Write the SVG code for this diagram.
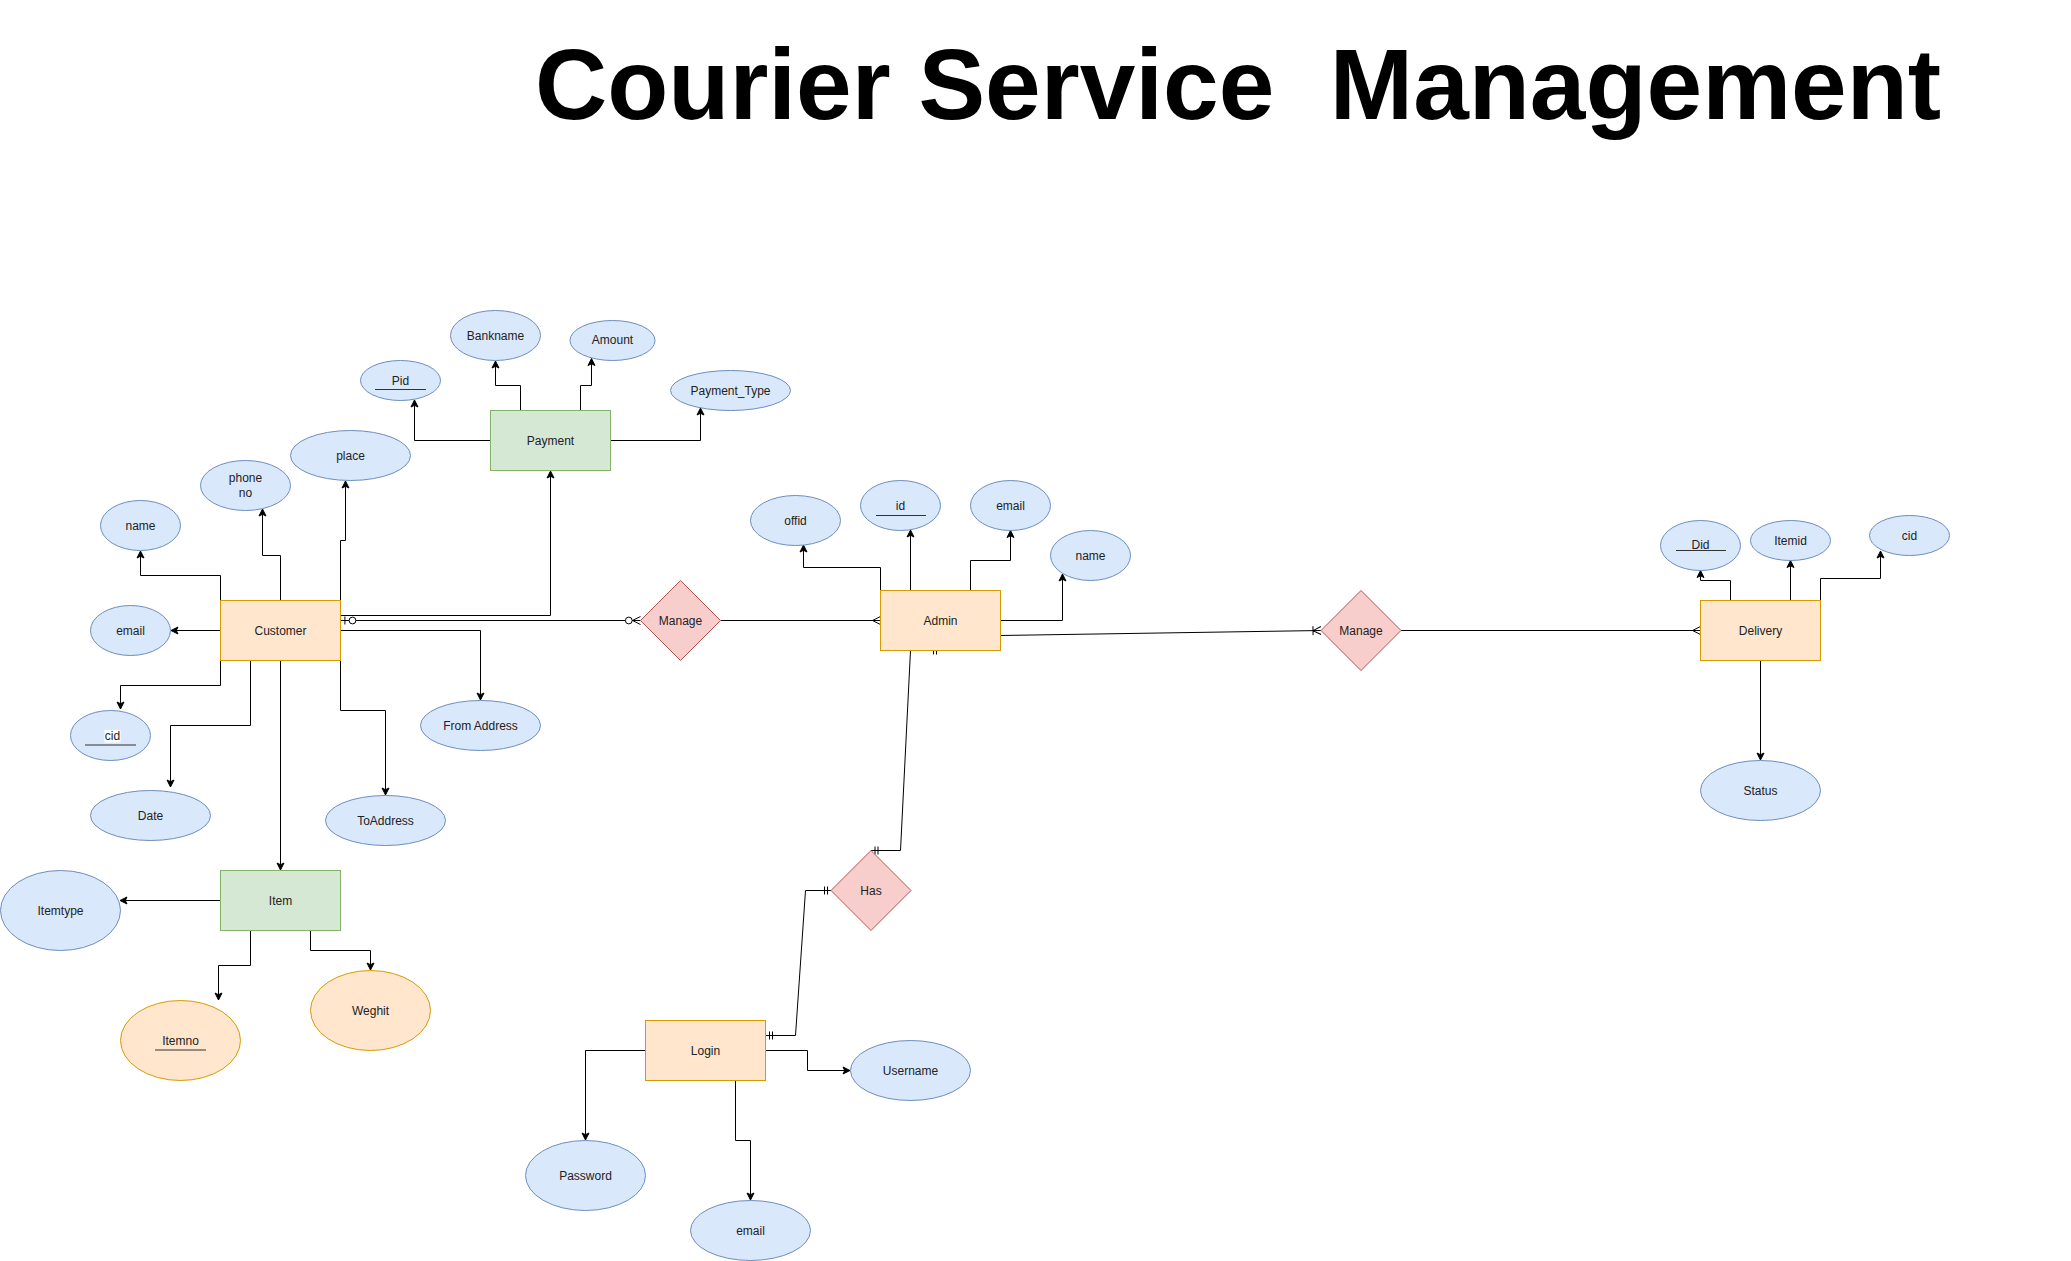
<svg xmlns="http://www.w3.org/2000/svg" width="2071" height="1261" viewBox="0 0 2071 1261">
<style>
text{font-family:"Liberation Sans",Arial,sans-serif;font-size:12px;fill:#222;text-anchor:middle}
.title{font-size:100px;font-weight:bold;fill:#000;text-anchor:start}
.ent{fill:#ffe6cc;stroke:#d79b00;stroke-width:1}
.ent2{fill:#d5e8d4;stroke:#82b366;stroke-width:1}
.att{fill:#dae8fc;stroke:#6c8ebf;stroke-width:1}
.att2{fill:#ffe6cc;stroke:#d79b00;stroke-width:1}
.rel{fill:#f8cecc;stroke:#b85450;stroke-width:1}
.ul{stroke:#333;stroke-width:1.2}
.c{fill:none;stroke:#000;stroke-width:1}
.a{marker-end:url(#arr)}
</style>
<defs>
<marker id="arr" markerUnits="userSpaceOnUse" viewBox="-10 -6 12 12" refX="0" refY="0" markerWidth="12" markerHeight="12" orient="auto" overflow="visible">
<path d="M0,0 L-7,-3.5 L-5.3,0 L-7,3.5 Z" fill="#000" stroke="#000" stroke-width="1"/>
</marker>
<marker id="many" markerUnits="userSpaceOnUse" viewBox="-16 -8 18 16" refX="0" refY="0" markerWidth="18" markerHeight="16" orient="auto" overflow="visible">
<path d="M0,-4 L-8,0 L0,4" fill="none" stroke="#000" stroke-width="1"/>
</marker>
<marker id="zeroMany" markerUnits="userSpaceOnUse" viewBox="-18 -8 20 16" refX="0" refY="0" markerWidth="20" markerHeight="16" orient="auto" overflow="visible">
<path d="M0,-4 L-8,0 L0,4" fill="none" stroke="#000" stroke-width="1"/>
<circle cx="-11.7" cy="0" r="3.4" fill="#fff" stroke="#000" stroke-width="1"/>
</marker>
<marker id="zeroOne" markerUnits="userSpaceOnUse" viewBox="-18 -8 20 16" refX="0" refY="0" markerWidth="20" markerHeight="16" orient="auto-start-reverse" overflow="visible">
<path d="M-4.4,-4 V4" fill="none" stroke="#000" stroke-width="1"/>
<circle cx="-12" cy="0" r="3.4" fill="#fff" stroke="#000" stroke-width="1"/>
</marker>
<marker id="mandOne" markerUnits="userSpaceOnUse" viewBox="-12 -8 14 16" refX="0" refY="0" markerWidth="14" markerHeight="16" orient="auto-start-reverse" overflow="visible">
<path d="M-4,-4 V4 M-7,-4 V4" fill="none" stroke="#000" stroke-width="1"/>
</marker>
<marker id="oneMany" markerUnits="userSpaceOnUse" viewBox="-14 -8 16 16" refX="0" refY="0" markerWidth="16" markerHeight="16" orient="auto" overflow="visible">
<path d="M0,-4 L-8,0 L0,4 M-8,-4.5 V4.5" fill="none" stroke="#000" stroke-width="1"/>
</marker>
</defs>
<rect width="2071" height="1261" fill="#fff"/>
<text class="title" x="535" y="119" xml:space="preserve">Courier Service  Management</text>

<g id="connectors">
<path class="c a" d="M490.5,440.5 H414.5 V400"/>
<path class="c a" d="M520.5,410.5 V385.5 H495.5 V361"/>
<path class="c a" d="M580.5,410.5 V385.5 H591.5 V358.5"/>
<path class="c a" d="M610.5,440.5 H700.5 V408"/>
<path class="c a" d="M220.5,600.5 V575.5 H140.5 V551"/>
<path class="c a" d="M280.5,600.5 V555.5 H262.5 V509"/>
<path class="c a" d="M340.5,600.5 V540.5 H345.5 V481"/>
<path class="c a" d="M340.5,615.5 H550.5 V471"/>
<path class="c a" d="M220.5,630.5 H171"/>
<path class="c a" d="M340.5,630.5 H480.5 V700"/>
<path class="c a" d="M220.5,660.5 V685.5 H120.5 V709"/>
<path class="c a" d="M250.5,660.5 V725.5 H170.5 V787"/>
<path class="c a" d="M280.5,660.5 V870"/>
<path class="c a" d="M340.5,660.5 V710.5 H385.5 V795"/>
<path class="c a" d="M220.5,900.5 H120"/>
<path class="c a" d="M250.5,930.5 V965.5 H218.5 V1000"/>
<path class="c a" d="M310.5,930.5 V950.5 H370.5 V970"/>
<path class="c a" d="M880.5,590.5 V567.5 H803.5 V545"/>
<path class="c a" d="M910.5,590.5 V530"/>
<path class="c a" d="M970.5,590.5 V560.5 H1010.5 V530.5"/>
<path class="c a" d="M1000.5,620.5 H1062.5 V574"/>
<path class="c a" d="M1730.5,600.5 V580.5 H1700.5 V570.5"/>
<path class="c a" d="M1790.5,600.5 V560.5"/>
<path class="c a" d="M1820.5,600.5 V578.5 H1880.5 V551"/>
<path class="c a" d="M1760.5,660.5 V760"/>
<path class="c a" d="M765.5,1050.5 H807.5 V1070.5 H850"/>
<path class="c a" d="M645.5,1050.5 H585.5 V1140"/>
<path class="c a" d="M735.5,1080.5 V1140.5 H750.5 V1200"/>
<path class="c" d="M340.5,620.5 H640.5" marker-start="url(#zeroOne)" marker-end="url(#zeroMany)"/>
<path class="c" d="M720.5,620.5 H880.5" marker-end="url(#many)"/>
<path class="c" d="M1000.5,635.5 L1321,630.5" marker-end="url(#oneMany)"/>
<path class="c" d="M1401,630.5 H1700.5" marker-end="url(#many)"/>
<path class="c" d="M940.5,650.5 H910.5 L900.5,850.5 H871" marker-start="url(#mandOne)" marker-end="url(#mandOne)"/>
<path class="c" d="M831.5,890.5 H805.5 L795.5,1035.5 H765.5" marker-start="url(#mandOne)" marker-end="url(#mandOne)"/>
</g>

<g id="payment"><rect class="ent2" x="490.5" y="410.5" width="120" height="60"/><text x="550.5" y="444.5">Payment</text></g>
<g id="pid"><ellipse class="att" cx="400.5" cy="380.5" rx="40" ry="20"/><text x="400.5" y="384.5">Pid</text><line class="ul" x1="375" y1="389.5" x2="426" y2="389.5"/></g>
<g id="bankname"><ellipse class="att" cx="495.5" cy="335.5" rx="45" ry="25"/><text x="495.5" y="339.5">Bankname</text></g>
<g id="amount"><ellipse class="att" cx="612.5" cy="340.5" rx="42.5" ry="20"/><text x="612.5" y="344">Amount</text></g>
<g id="payment-type"><ellipse class="att" cx="730.5" cy="390.5" rx="60" ry="20"/><text x="730.5" y="394.5">Payment_Type</text></g>

<g id="customer"><rect class="ent" x="220.5" y="600.5" width="120" height="60"/><text x="280.5" y="634.5">Customer</text></g>
<g id="c-name"><ellipse class="att" cx="140.5" cy="525.5" rx="40" ry="25"/><text x="140.5" y="529.5">name</text></g>
<g id="c-phone"><ellipse class="att" cx="245.5" cy="485.5" rx="45" ry="25"/><text x="245.5" y="482">phone</text><text x="245.5" y="497">no</text></g>
<g id="c-place"><ellipse class="att" cx="350.5" cy="455.5" rx="60" ry="25"/><text x="350.5" y="459.5">place</text></g>
<g id="c-email"><ellipse class="att" cx="130.5" cy="630.5" rx="40" ry="25"/><text x="130.5" y="634.5">email</text></g>
<g id="c-cid"><ellipse class="att" cx="110.5" cy="735.5" rx="40" ry="25"/><rect x="104.5" y="730" width="16" height="12.5" fill="#fff"/><text x="112.5" y="740">cid</text><line class="ul" x1="85" y1="745" x2="136" y2="745"/></g>
<g id="c-date"><ellipse class="att" cx="150.5" cy="815.5" rx="60" ry="25"/><text x="150.5" y="819.5">Date</text></g>
<g id="c-toaddress"><ellipse class="att" cx="385.5" cy="820.5" rx="60" ry="25"/><text x="385.5" y="824.5">ToAddress</text></g>
<g id="c-fromaddress"><ellipse class="att" cx="480.5" cy="725.5" rx="60" ry="25"/><text x="480.5" y="729.5">From Address</text></g>

<g id="item"><rect class="ent2" x="220.5" y="870.5" width="120" height="60"/><text x="280.5" y="904.5">Item</text></g>
<g id="itemtype"><ellipse class="att" cx="60.5" cy="910.5" rx="60" ry="40"/><text x="60.5" y="914.5">Itemtype</text></g>
<g id="itemno"><ellipse class="att2" cx="180.5" cy="1040.5" rx="60" ry="40"/><text x="180.5" y="1044.5">Itemno</text><line class="ul" x1="155" y1="1050" x2="206" y2="1050"/></g>
<g id="weghit"><ellipse class="att2" cx="370.5" cy="1010.5" rx="60" ry="40"/><text x="370.5" y="1014.5">Weghit</text></g>

<g id="manage1"><polygon class="rel" points="680.5,580.5 720.5,620.5 680.5,660.5 640.5,620.5"/><text x="680.5" y="624.5">Manage</text></g>

<g id="admin"><rect class="ent" x="880.5" y="590.5" width="120" height="60"/><text x="940.5" y="624.5">Admin</text></g>
<g id="a-offid"><ellipse class="att" cx="795.5" cy="520.5" rx="45" ry="25"/><text x="795.5" y="524.5">offid</text></g>
<g id="a-id"><ellipse class="att" cx="900.5" cy="505.5" rx="40" ry="25"/><text x="900.5" y="509.5">id</text><line class="ul" x1="876" y1="515.5" x2="926" y2="515.5"/></g>
<g id="a-email"><ellipse class="att" cx="1010.5" cy="505.5" rx="40" ry="25"/><text x="1010.5" y="509.5">email</text></g>
<g id="a-name"><ellipse class="att" cx="1090.5" cy="555.5" rx="40" ry="25"/><text x="1090.5" y="559.5">name</text></g>

<g id="manage2"><polygon class="rel" points="1361,590.5 1401,630.5 1361,670.5 1321,630.5"/><text x="1361" y="634.5">Manage</text></g>

<g id="delivery"><rect class="ent" x="1700.5" y="600.5" width="120" height="60"/><text x="1760.5" y="634.5">Delivery</text></g>
<g id="d-did"><ellipse class="att" cx="1700.5" cy="545.5" rx="40" ry="25"/><text x="1700.5" y="548.5">Did</text><line class="ul" x1="1676" y1="550.5" x2="1726" y2="550.5"/></g>
<g id="d-itemid"><ellipse class="att" cx="1790.5" cy="540.5" rx="40" ry="20"/><text x="1790.5" y="544.5">Itemid</text></g>
<g id="d-cid"><ellipse class="att" cx="1909.5" cy="535.5" rx="40" ry="20"/><text x="1909.5" y="539.5">cid</text></g>
<g id="d-status"><ellipse class="att" cx="1760.5" cy="790.5" rx="60" ry="30"/><text x="1760.5" y="794.5">Status</text></g>

<g id="has"><polygon class="rel" points="871,850.5 911,890.5 871,930.5 831,890.5"/><text x="871" y="894.5">Has</text></g>

<g id="login"><rect class="ent" x="645.5" y="1020.5" width="120" height="60"/><text x="705.5" y="1054.5">Login</text></g>
<g id="l-username"><ellipse class="att" cx="910.5" cy="1070.5" rx="60" ry="30"/><text x="910.5" y="1074.5">Username</text></g>
<g id="l-password"><ellipse class="att" cx="585.5" cy="1175.5" rx="60" ry="35"/><text x="585.5" y="1179.5">Password</text></g>
<g id="l-email"><ellipse class="att" cx="750.5" cy="1230.5" rx="60" ry="30"/><text x="750.5" y="1234.5">email</text></g>
</svg>
